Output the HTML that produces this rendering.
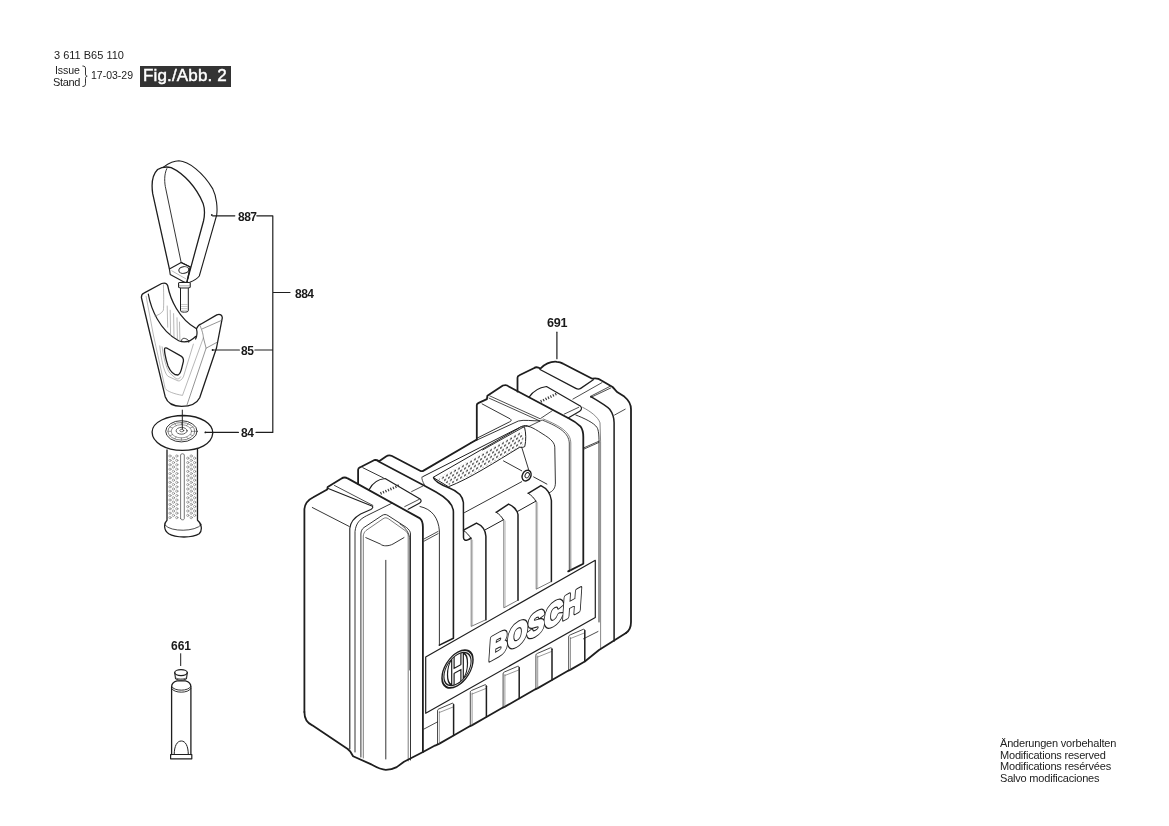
<!DOCTYPE html>
<html><head><meta charset="utf-8">
<style>
html,body{margin:0;padding:0;background:#fff;}
body{width:1169px;height:826px;position:relative;overflow:hidden;font-family:"Liberation Sans",sans-serif;color:#222;}
.t{position:absolute;white-space:nowrap;line-height:1;}
.b{font-weight:bold;font-size:12px;color:#1a1a1a;letter-spacing:-0.5px;}
svg{position:absolute;left:0;top:0;will-change:transform;}
.t{will-change:transform;}
</style></head><body>
<svg width="1169" height="826" viewBox="0 0 1169 826"><g fill="none" stroke="#1e1e1e" stroke-linejoin="round" stroke-linecap="round">
<!-- ===== OUTER / TOP CONTOURS ===== -->
<path stroke-width="1.8" d="M304.4 712 L304.4 509 C305 502.8 308 499.8 313.3 497.2 L327.2 489.5 L327.7 486.9 L341.1 478.7 C343.1 477.4 345.7 477.2 347.7 478.4 L420 518.4 C421.5 519.5 422.9 522 422.9 527 L422.9 752"/>
<path stroke-width="1.8" d="M358.1 483.9 L358.1 469.8 C358.1 468.5 359 467.7 360.3 467.2 L374 460.2 C375.7 459.7 377.4 460.2 379.1 461.3 L386 456.5 C388 455.2 390 455.2 392 456 L420.1 470.7 C421 471.2 422 471.2 422.7 471.1 L476.8 439.5"/>
<path stroke-width="1.6" d="M378.2 461.3 L423.6 485.2 L436 492 C444 496.5 453.4 503 453.4 511.8 L453.4 638.3 L439.4 645.1"/>
<path stroke-width="1.8" d="M476.8 439.5 L476.8 404.9 C476.8 403.9 477.7 403.4 478.7 402.9 L486.9 399.1 L487.4 395.7 L502.9 385.5 C505.8 384.5 507.8 385.5 508.7 386.5 L568.1 418 C572 419.9 576.8 422.8 580.7 426.7 C582.1 428.6 583.3 431.5 583.3 436.9 L583.3 563.7 L568.2 571.4"/>
<path stroke-width="1.8" d="M517.5 391.6 L517.5 377.7 C517.5 376.3 518.4 375.6 519.4 375.3 L528.1 371 L533.8 368.2 C535.5 367 538 367 540.3 368.6 C545.8 363.2 551.6 361.3 556.9 361.8 C560.3 362 562.3 363.2 563.2 363.7 L592.3 378.7 C595.2 378.2 599.1 378.7 601 380.2 L612.6 387 C614.1 388.4 615.5 390.4 617.5 392.3 L624.3 396.6 C629.1 400.5 631 405.4 631 409.2 L631 622 C631 627 629 631 626 633"/>
<!-- ===== END FACE (left) ===== -->
<path stroke-width="1.1" d="M328.2 488.5 L371.9 505.9 C373.4 507 372.9 508.2 370.8 509.5 L360.6 514.1 C353.4 518.2 350.3 522.4 349.8 528.5 L349.8 749"/>
<path stroke-width="0.8" d="M334.4 485.4 L372.9 505.4"/>
<path stroke-width="0.9" d="M312.3 507.5 L349.3 526.5"/>
<!-- ===== RIB 1 FRONT FACE ===== -->
<path stroke-width="0.9" d="M355 752 L355 531.6 C355.9 523.4 359.5 519.3 366.7 515.7 L391.9 503.2"/>
<path stroke-width="0.9" d="M360.9 757 L360.9 534 C361 531 362 529 364 527.5 L382 515.5 C384 514.2 386 514.2 388 515.5 L406.5 527.5 C409 529.5 410.5 531.5 410.5 534 L410.5 760"/>
<path stroke-width="0.7" stroke="#444" d="M363.3 758 L363.3 536 C363.5 533.5 364.5 532 366 530.5 L383 518.8 C385 517.5 386.5 517.5 388.5 518.8 L405 530.5 C407 532 408.2 533.5 408.2 536 L408.2 761"/>
<path stroke-width="0.9" d="M365.8 537.6 L380.3 544 C382 545.5 384 545.8 385.8 545.8 C389 545.8 391 545 393 544 L404 537.6"/>
<path stroke-width="0.9" d="M385.8 560.3 L385.8 759"/>
<!-- ===== RIB 2 ===== -->
<path stroke-width="0.9" d="M362.8 467.7 L383.4 477.9"/>
<path stroke-width="1.2" d="M369.2 489.5 C372.2 483.5 378.2 479.2 385.1 478.5 L420.1 498.9 C421.9 500.6 421 502.3 419.3 503.2 L408.2 509.2"/>
<path stroke-width="0.8" d="M404.7 506.6 L419.3 499.3 M411.6 491.6 L422.7 486.1"/>
<path stroke-width="2.6" stroke="#333" stroke-dasharray="1.1 1.6" stroke-linecap="butt" d="M380.5 493.5 L399 485.5"/>
<path stroke-width="0.9" d="M439.4 645.1 L439.4 531 C438.5 518 432 509 420 506.5"/>
<path stroke-width="0.8" d="M424 541.2 L438.1 533.6 M424 539 L438.1 531.4"/>
<path stroke-width="0.8" d="M409.8 670 L409.8 540 C409.8 533 405 527 400 524"/>
<!-- ===== HANDLE FRAME ===== -->
<path stroke-width="1" d="M422.7 476.7 L521.7 426.4 C524.4 425.1 527.1 425.4 529 426.4"/>
<path stroke-width="0.8" d="M421.9 477.1 C421.4 478.4 422.7 481.8 424.4 484.8"/>
<path stroke-width="0.9" d="M470 443.2 L518.4 421 C524.2 419.5 532 421 539.7 420.9"/>
<path stroke-width="0.8" d="M489.8 395.9 L540 418.7 M489 398.1 L539.7 420.9"/>
<path stroke-width="0.8" d="M529 426.4 L542.1 420 C560.3 427.3 568.7 433.3 569.3 443 L569.3 571.4"/>
<path stroke-width="0.7" stroke="#555" d="M543.3 419 C561.5 426.3 570.6 432.7 570.8 443 L570.8 570.6"/>
<defs>
<pattern id="dots" width="4" height="6.8" patternUnits="userSpaceOnUse" patternTransform="matrix(1 -0.574 0 1 0 0)">
<circle cx="1" cy="1" r="1" fill="#333" stroke="none"/><circle cx="3" cy="4.4" r="1" fill="#333" stroke="none"/>
</pattern>
<pattern id="dots2" width="3.2" height="3.6" patternUnits="userSpaceOnUse">
<circle cx="0.8" cy="0.9" r="0.75" fill="none" stroke="#666" stroke-width="0.45"/><circle cx="2.4" cy="2.7" r="0.75" fill="none" stroke="#666" stroke-width="0.45"/>
</pattern>
</defs>
<path stroke-width="1" fill="#fff" d="M433.4 477.2 L520.7 427.1 C522.5 426.6 524 426.7 524.6 427.5 C526 433 526.2 440 524.8 446.5 C523.5 447.5 521.5 447.5 519.8 447.2 C496 461.5 470 478.5 448.8 486.6 Z"/>
<path stroke="none" fill="url(#dots)" d="M437.5 478.6 L520.5 431.2 C523 433 524 438 523 444.8 C496 459.5 471 476.5 449.5 484.8 Z"/>
<path stroke-width="0.9" d="M482.6 450 L524.2 426.7 C528.1 425.2 532 427.1 542 433.5 C551.8 439.4 554.8 443 554.8 447.8 L555.4 483 C555.4 487.8 553 491.4 549.4 492.6"/>
<path stroke-width="0.9" d="M521.7 447.2 L529 470.8 M503.5 460.9 L521.7 470.8 M533.6 476.9 L546.9 484.1 M464.5 512.6 L521.7 481.7"/>
<ellipse cx="526.6" cy="475.6" rx="4.2" ry="5.6" transform="rotate(28 526.6 475.6)" stroke-width="1.4"/>
<ellipse cx="527.2" cy="475.2" rx="2" ry="2.8" transform="rotate(28 527.2 475.2)" stroke-width="0.9"/>
<path stroke-width="1.5" d="M433.6 477.7 C434.2 480.1 440.3 484.4 449.3 488 C457.2 491 462.7 496.5 463.4 502.5 L463.5 537.4 C463.5 539.8 465.3 540.7 467.1 540.1 C468.9 539.5 470.6 538.6 471 538"/>

<path stroke-width="1.5" d="M463.5 530.1 L476.5 523.1 C480.4 524.7 485.3 528.9 485.9 536.2 L485.9 619.7"/>
<path stroke-width="1.5" d="M496.2 512.3 L508.6 504.1 C512.5 505.5 517.5 510 518 514.5 L518 600.2"/>
<path stroke-width="1.5" d="M528.2 493.3 L540.9 485.6 C545 487.5 550.3 492 551.4 500.5 L551.4 581.5"/>
<path stroke-width="1" d="M463.5 530.4 C466.5 532.5 469.5 535.5 471 538.6 M496.2 512.3 C499.2 513.8 502.2 517.4 503.4 519.8 M528.2 493.3 C531.5 495.2 534.5 498.5 535.8 501.2 M484.7 530.1 L503.4 519.8 M517.6 511.4 L535.8 501.2"/>
<path stroke-width="0.7" stroke="#444" d="M471.2 538.6 L471.2 626.4 L485.9 619.7 M503.8 519.8 L503.8 607.8 L518 600.2 M536.2 501.2 L536.2 589.2 L551.4 581.5"/>
<path stroke-width="0.5" stroke="#888" d="M472.6 540 L472.6 625.6 M505.2 521 L505.2 607 M537.6 502.5 L537.6 588.4"/>
<!-- ===== RIB 3 ===== -->
<path stroke-width="0.9" d="M482.1 403.9 L510.2 418.9 C511.6 419.9 511.5 421.1 509.7 421.8 L476.8 438.3"/>
<path stroke-width="1.2" d="M529.1 397.1 C533 391.3 539.7 387.4 546.5 386.5 L580.7 406.3 C582.1 407.8 581.6 410.2 579.7 411.2 L568.1 418"/>
<path stroke-width="0.8" d="M564.2 414.1 L578.7 407.3 M540.7 418.4 L552.3 410.7"/>
<path stroke-width="2.6" stroke="#333" stroke-dasharray="1.1 1.6" stroke-linecap="butt" d="M540.7 401.5 L557.2 393.5"/>
<path stroke-width="0.9" d="M575.8 415 C583.6 418 594.2 422.8 597.1 427.6 C598.5 430 599 435 599 441.8 L599 622"/>
<path stroke-width="0.7" stroke="#555" d="M582.6 407.3 C590.4 411.2 598.1 417 600 422.8 L600.6 441.8 L600.6 649.5"/>
<path stroke-width="0.8" d="M583.9 447.8 L599 441.2 M583.9 449.1 L599 442.4"/>
<!-- ===== RIB 4 ===== -->
<path stroke-width="1.3" d="M540 369.5 L575.8 388.4 C577.8 389.4 579.2 389.4 580.7 388.4 L593.3 379.7"/>
<path stroke-width="0.8" d="M572.9 399.1 L602 382.6 M614.6 415 L625.2 409.2"/>
<path stroke-width="0.8" d="M590.8 396.2 L609.7 386.5 M590.8 397.4 L610.7 388"/>
<path stroke-width="1.5" d="M590.8 396.6 C594.2 398.6 605.9 405.4 609.7 409.2 C612.6 413.1 614.1 418 614.1 422.8 L614.1 641"/>
<!-- ===== LABEL PANEL ===== -->
<path stroke-width="1.2" d="M425.7 713.3 L425.7 656.9 L595.3 560.3 L595.3 617.4 Z"/>
<path stroke-width="1.8" d="M304.4 712 C304.4 718 307 723 312.3 725.3 L347.7 749 L350.4 751.7 L353.1 756.2 L371.3 764.4 C376 767 381 769.8 385.8 769.8 C390 769.8 394 768.5 396.7 767.1 L404 761.7 L423 752 L435 745.5 L436.0 745.3 C437.0 744.7 438.0 744.3 439.0 743.9 L453.6 735.5 L468.8 726.8 L468.8 726.8 C469.8 726.2 470.8 725.8 471.8 725.4 L486.4 717.0 L501.6 708.3 L501.6 708.3 C502.6 707.7 503.6 707.3 504.6 706.9 L519.2 698.5 L534.4 689.8 L534.4 689.8 C535.4 689.2 536.4 688.8 537.4 688.4 L552.0 680.0 L567.2 671.3 L567.2 671.3 C568.2 670.7 569.2 670.3 570.2 669.9 L584.8 661.5 L599 650 L626 633"/>
<path stroke-width="0.8" d="M423.7 729.2 L437.5 721.9 M583.5 638.8 L598 631.5"/>
<path stroke-width="0.8" d="M437.5 744.5 L437.5 711.0 C437.5 709.5 438.3 709.2 439.0 708.9 L452.1 703.3 C453.1 703.0 453.6 703.7 453.6 704.7"/>
<path stroke-width="0.6" stroke="#555" d="M439.3 743.5 L439.3 711.5 M439.3 712.5 L453.1 707.0"/>
<path stroke-width="1.5" d="M453.6 704.7 L453.6 735.5"/>
<path stroke-width="0.8" d="M470.3 726.0 L470.3 692.5 C470.3 691.0 471.1 690.7 471.8 690.4 L484.9 684.8 C485.9 684.5 486.4 685.2 486.4 686.2"/>
<path stroke-width="0.6" stroke="#555" d="M472.1 725.0 L472.1 693.0 M472.1 694.0 L485.9 688.5"/>
<path stroke-width="1.5" d="M486.4 686.2 L486.4 717.0"/>
<path stroke-width="0.8" d="M503.1 707.5 L503.1 674.0 C503.1 672.5 503.9 672.2 504.6 671.9 L517.7 666.3 C518.7 666.0 519.2 666.7 519.2 667.7"/>
<path stroke-width="0.6" stroke="#555" d="M504.9 706.5 L504.9 674.5 M504.9 675.5 L518.7 670.0"/>
<path stroke-width="1.5" d="M519.2 667.7 L519.2 698.5"/>
<path stroke-width="0.8" d="M535.9 689.0 L535.9 655.5 C535.9 654.0 536.7 653.7 537.4 653.4 L550.5 647.8 C551.5 647.5 552.0 648.2 552.0 649.2"/>
<path stroke-width="0.6" stroke="#555" d="M537.7 688.0 L537.7 656.0 M537.7 657.0 L551.5 651.5"/>
<path stroke-width="1.5" d="M552.0 649.2 L552.0 680.0"/>
<path stroke-width="0.8" d="M568.7 670.5 L568.7 637.0 C568.7 635.5 569.5 635.2 570.2 634.9 L583.3 629.3 C584.3 629.0 584.8 629.7 584.8 630.7"/>
<path stroke-width="0.6" stroke="#555" d="M570.5 669.5 L570.5 637.5 M570.5 638.5 L584.3 633.0"/>
<path stroke-width="1.5" d="M584.8 630.7 L584.8 661.5"/>
<!-- bosch logo -->
<g transform="translate(457.5 669) matrix(1 -0.566 0 1.08 0 0)">
<circle r="15.5" stroke-width="1.5"/>
<circle r="13.6" stroke-width="1.1"/>
<path stroke-width="1.2" d="M-3.4 -12.6 L-3.4 -2.3 L3.4 -2.3 L3.4 -12.6 M-3.4 12.6 L-3.4 2.3 L3.4 2.3 L3.4 12.6 M-5.8 -11.8 C-9.2 -9 -10 -4.5 -10 0 C-10 4.5 -9.2 9 -5.8 11.8 M5.8 -11.8 C9.2 -9 10 -4.5 10 0 C10 4.5 9.2 9 5.8 11.8 M-5.8 -11.8 L-5.8 11.8 M5.8 -11.8 L5.8 11.8"/>
</g>
<g transform="translate(488.6 661) matrix(1 -0.556 0 1 0 0) skewX(-4)" font-family="Liberation Sans" font-weight="bold" font-size="31">
<text x="0" y="0" textLength="92" lengthAdjust="spacingAndGlyphs" fill="#fff" stroke="#1e1e1e" stroke-width="4.4" stroke-linejoin="round">BOSCH</text>
<text x="0" y="0" textLength="92" lengthAdjust="spacingAndGlyphs" fill="#fff" stroke="#fff" stroke-width="2.2" stroke-linejoin="round">BOSCH</text>
</g>
</g>
<g fill="none" stroke="#1e1e1e" stroke-linejoin="round" stroke-linecap="round">
<!-- strap 887 -->
<path stroke-width="1.3" d="M169.4 268.9 L152.7 193.7 C151.3 184.1 152.7 174.4 157.6 169.5 C161.5 167.1 166.3 166.4 171.2 167.6 C183.7 173.4 196.3 187 203.1 203.4 C205 209.2 204.6 216 203.5 221 L186.8 282.3"/>
<path stroke-width="1.1" d="M163.4 167.1 C168.2 163.7 173.1 160.8 178.9 160.8 C188.6 161.3 203.1 172.4 212.8 188.9 C216.7 196.6 217.6 208.3 216.7 215 L199.3 276 C197 279 193 281 189.9 282.2"/>
<path stroke-width="0.9" d="M166.8 168.6 C163.9 174.4 164.4 183.1 165.8 188.9 L181.2 262.6"/>
<path stroke-width="1.1" fill="#fff" d="M169.4 268.9 L181.2 262.6 L190.3 266.9 L186.8 282.3 L186.3 283.2 L170.2 274.4 Z"/>
<path stroke-width="1.1" d="M181.2 262.6 L190.3 266.9 L186.8 282.3"/>
<ellipse cx="183.8" cy="270" rx="5" ry="3.3" transform="rotate(-8 183.8 270)" stroke-width="1"/>
<path stroke-width="0.8" stroke="#aaa" d="M171.8 270.8 L186.2 279"/>
<path stroke-width="1" fill="#fff" d="M180.5 287.8 L180.5 310.8 C180.5 312.6 188.3 312.6 188.3 310.8 L188.3 287.8"/>
<path stroke-width="1.1" fill="#fff" d="M178.6 283 C178.6 282 190.2 282 190.2 283 L190.2 287 C190.2 288.4 178.6 288.4 178.6 287 Z"/>
<path stroke-width="0.7" stroke="#888" d="M179.5 285.8 L189.3 285.8"/>
<path stroke-width="0.6" stroke="#aaa" d="M181.5 304.5 L187.3 304.5 M181.5 306.5 L187.3 306.5 M181.5 308.5 L187.3 308.5 M181.5 310.3 L187.3 310.3"/>
<circle cx="211.8" cy="215" r="0.9" fill="#222" stroke="none"/>
<!-- holder 85 -->
<path stroke-width="1.3" fill="#fff" d="M141.4 297.5 C141.4 294.9 142.2 293.7 143.9 293.1 L161.7 283.5 C164.3 282.7 166.8 283.1 167.7 285.6 C170.2 299.2 178.7 318.7 196.5 328.8 C197.7 326.3 199 324.6 200.7 324.2 L216.8 314.9 C220.2 313.6 222.3 315.3 222.3 317.8 L216.5 348 L199.7 397.7 C197 403.1 190.7 406.3 181.6 406.3 C172.5 406.3 167.1 402.2 165.2 396.7 L150.3 335 Z"/>
<path stroke-width="1.2" d="M148.3 294.1 C150.7 307.7 159.2 330.5 178.7 340.7 C182.9 342.4 188.8 343.3 195.6 336.5 M196.5 328.8 C197.3 332.2 196.9 336.5 195.6 339"/>
<path stroke-width="0.9" d="M181.6 341.6 C181.2 339 182.9 337.7 185.5 338.6 C188 339.4 189.7 341.1 188.8 342.4"/>
<path stroke-width="0.6" stroke="#888" d="M146.1 296.2 L153.4 335 L165.2 388.6 C167.1 391.3 174.3 394 182.5 395.4 L203.4 337.7 M163.4 284.8 C163.8 294.9 163.8 306 163.4 310.2 C161.7 313.6 157.5 315.3 154.9 316.1 M167.2 306 L167.7 327.2 M170.2 310.2 L170.6 335.6 M173.6 313.6 L174 337.3 M177 317.8 L177.4 339 M179.5 322.1 L179.9 340.7"/>
<path stroke-width="0.6" stroke="#888" d="M159.8 345.9 C161.6 364.1 165.2 374 168 376.3 L178 380.9 C179.8 381.3 181.6 379.9 183.4 376.8 L193.4 344.1 M162.1 346.8 C164.3 362.2 167.1 369.5 169.8 373.1 L176.1 378.6 C178 379.5 179.8 378.6 180.7 376.8"/>
<path stroke-width="0.7" stroke="#666" d="M199.9 325.5 C202.4 330.5 203.3 335.6 203.4 337.7 L206.1 348.2 L187 404.9 M202.4 328.8 L221.5 320.4 M206.1 348.2 L217 342.3"/>
<path stroke-width="1.3" d="M164.8 348.2 C163.9 349.5 165.2 357.7 168 365.9 C170.7 372.2 174.3 375 178 375 C179.8 374 180.7 372.2 181.6 368.6 L183.4 361.3 C183.9 358.6 182.5 356.8 179.8 355.4 L167.1 348.2 C166.1 347.7 165.2 347.7 164.8 348.2 Z"/>
<circle cx="212.6" cy="350" r="1" fill="#222" stroke="none"/>
<!-- disc 84 -->
<path stroke-width="1.3" fill="#fff" d="M152.1 432.1 C152.1 421.9 167 415.5 184 415.5 C200.9 416 212.8 423.6 212.8 433 C211.9 444 199.2 450.4 182.3 450.4 C165.3 450.4 152.1 442.3 152.1 432.1 Z"/>
<ellipse cx="181.4" cy="431.3" rx="15.7" ry="10.6" stroke-width="0.9"/>
<ellipse cx="181.4" cy="431.3" rx="13.5" ry="8.8" stroke-width="0.7" stroke="#555"/>
<ellipse cx="181.4" cy="431.3" rx="10.2" ry="6.6" stroke-width="0.6" stroke="#555"/>
<path stroke-width="0.6" stroke="#555" d="M191.6 431.3 L194.9 431.3 M190.2 434.6 L193.1 435.7 M186.5 437.0 L188.2 438.9 M181.4 437.9 L181.4 440.1 M176.3 437.0 L174.7 438.9 M172.6 434.6 L169.7 435.7 M171.2 431.3 L167.9 431.3 M172.6 428.0 L169.7 426.9 M176.3 425.6 L174.7 423.7 M181.4 424.7 L181.4 422.5 M186.5 425.6 L188.2 423.7 M190.2 428.0 L193.1 426.9"/>
<ellipse cx="181.6" cy="430.8" rx="5.5" ry="3.4" stroke-width="0.7"/>
<ellipse cx="181.8" cy="430.6" rx="2" ry="1.2" stroke-width="0.6"/>
<path stroke-width="1" d="M182.3 410.1 L182.3 429"/>
<circle cx="205.4" cy="432.4" r="0.9" fill="#222" stroke="none"/>
<!-- grip -->
<path stroke-width="1.3" d="M167 449.9 L167 520.3 C163.6 523.6 163.6 530.4 168.7 533.8 C175.5 538.1 192.5 538.1 199.2 533.8 C202.6 530.4 201.8 523.6 197.5 520.3 L197.5 449.4"/>
<path stroke-width="0.8" d="M165.3 525.3 C170.4 532.1 195.8 532.1 201.4 524.5"/>
<path stroke-width="0.8" stroke="#555" d="M180.6 518.6 L180.6 455 C180.6 453.3 184.3 453.3 184.3 455 L184.3 518.6 C184.3 520.3 180.6 520.3 180.6 518.6"/>
<g stroke="#666" stroke-width="0.55" fill="none"><circle cx="170.0" cy="456.0" r="1.15"/><circle cx="170.0" cy="460.4" r="1.15"/><circle cx="170.0" cy="464.8" r="1.15"/><circle cx="170.0" cy="469.2" r="1.15"/><circle cx="170.0" cy="473.6" r="1.15"/><circle cx="170.0" cy="478.0" r="1.15"/><circle cx="170.0" cy="482.4" r="1.15"/><circle cx="170.0" cy="486.8" r="1.15"/><circle cx="170.0" cy="491.2" r="1.15"/><circle cx="170.0" cy="495.6" r="1.15"/><circle cx="170.0" cy="500.0" r="1.15"/><circle cx="170.0" cy="504.4" r="1.15"/><circle cx="170.0" cy="508.8" r="1.15"/><circle cx="170.0" cy="513.2" r="1.15"/><circle cx="170.0" cy="517.6" r="1.15"/><circle cx="173.4" cy="458.2" r="1.15"/><circle cx="173.4" cy="462.6" r="1.15"/><circle cx="173.4" cy="467.0" r="1.15"/><circle cx="173.4" cy="471.4" r="1.15"/><circle cx="173.4" cy="475.8" r="1.15"/><circle cx="173.4" cy="480.2" r="1.15"/><circle cx="173.4" cy="484.6" r="1.15"/><circle cx="173.4" cy="489.0" r="1.15"/><circle cx="173.4" cy="493.4" r="1.15"/><circle cx="173.4" cy="497.8" r="1.15"/><circle cx="173.4" cy="502.2" r="1.15"/><circle cx="173.4" cy="506.6" r="1.15"/><circle cx="173.4" cy="511.0" r="1.15"/><circle cx="173.4" cy="515.4" r="1.15"/><circle cx="176.8" cy="456.0" r="1.15"/><circle cx="176.8" cy="460.4" r="1.15"/><circle cx="176.8" cy="464.8" r="1.15"/><circle cx="176.8" cy="469.2" r="1.15"/><circle cx="176.8" cy="473.6" r="1.15"/><circle cx="176.8" cy="478.0" r="1.15"/><circle cx="176.8" cy="482.4" r="1.15"/><circle cx="176.8" cy="486.8" r="1.15"/><circle cx="176.8" cy="491.2" r="1.15"/><circle cx="176.8" cy="495.6" r="1.15"/><circle cx="176.8" cy="500.0" r="1.15"/><circle cx="176.8" cy="504.4" r="1.15"/><circle cx="176.8" cy="508.8" r="1.15"/><circle cx="176.8" cy="513.2" r="1.15"/><circle cx="176.8" cy="517.6" r="1.15"/><circle cx="187.8" cy="458.2" r="1.15"/><circle cx="187.8" cy="462.6" r="1.15"/><circle cx="187.8" cy="467.0" r="1.15"/><circle cx="187.8" cy="471.4" r="1.15"/><circle cx="187.8" cy="475.8" r="1.15"/><circle cx="187.8" cy="480.2" r="1.15"/><circle cx="187.8" cy="484.6" r="1.15"/><circle cx="187.8" cy="489.0" r="1.15"/><circle cx="187.8" cy="493.4" r="1.15"/><circle cx="187.8" cy="497.8" r="1.15"/><circle cx="187.8" cy="502.2" r="1.15"/><circle cx="187.8" cy="506.6" r="1.15"/><circle cx="187.8" cy="511.0" r="1.15"/><circle cx="187.8" cy="515.4" r="1.15"/><circle cx="191.2" cy="456.0" r="1.15"/><circle cx="191.2" cy="460.4" r="1.15"/><circle cx="191.2" cy="464.8" r="1.15"/><circle cx="191.2" cy="469.2" r="1.15"/><circle cx="191.2" cy="473.6" r="1.15"/><circle cx="191.2" cy="478.0" r="1.15"/><circle cx="191.2" cy="482.4" r="1.15"/><circle cx="191.2" cy="486.8" r="1.15"/><circle cx="191.2" cy="491.2" r="1.15"/><circle cx="191.2" cy="495.6" r="1.15"/><circle cx="191.2" cy="500.0" r="1.15"/><circle cx="191.2" cy="504.4" r="1.15"/><circle cx="191.2" cy="508.8" r="1.15"/><circle cx="191.2" cy="513.2" r="1.15"/><circle cx="191.2" cy="517.6" r="1.15"/><circle cx="194.6" cy="458.2" r="1.15"/><circle cx="194.6" cy="462.6" r="1.15"/><circle cx="194.6" cy="467.0" r="1.15"/><circle cx="194.6" cy="471.4" r="1.15"/><circle cx="194.6" cy="475.8" r="1.15"/><circle cx="194.6" cy="480.2" r="1.15"/><circle cx="194.6" cy="484.6" r="1.15"/><circle cx="194.6" cy="489.0" r="1.15"/><circle cx="194.6" cy="493.4" r="1.15"/><circle cx="194.6" cy="497.8" r="1.15"/><circle cx="194.6" cy="502.2" r="1.15"/><circle cx="194.6" cy="506.6" r="1.15"/><circle cx="194.6" cy="511.0" r="1.15"/><circle cx="194.6" cy="515.4" r="1.15"/></g>
<!-- tube 661 -->
<path stroke-width="1.3" d="M171.6 754.5 L171.6 687 C171.6 683.5 174 681.5 177 680.8 L185.5 680.8 C188.5 681.5 190.9 683.5 190.9 687 L190.9 754.5"/>
<path stroke-width="1.2" d="M170.6 754.5 L191.8 754.5 L191.8 758.8 L170.6 758.8 Z"/>
<path stroke-width="0.9" d="M171.6 686.5 C174 691.5 188.5 691.5 190.9 686.5 M171.6 688.5 C174 693.5 188.5 693.5 190.9 688.5"/>
<path stroke-width="1" d="M174.2 754.5 C174.2 746 177 741 181.3 741 C185.5 741 188.3 746 188.3 754.5"/>
<ellipse cx="181" cy="672.6" rx="6.3" ry="3" stroke-width="1.2"/>
<path stroke-width="1.1" d="M174.7 672.6 L175.5 678.5 C177 680.5 185 680.5 186.5 678.5 L187.3 672.6"/>
<path stroke-width="1" stroke="#555" stroke-dasharray="0.8 0.9" d="M176 678 C178 679.2 184 679.2 186 678"/>
<path stroke-width="1" d="M180.7 653.7 L180.7 665.6"/>
<!-- brace -->
<path stroke-width="0.9" d="M82.8 66 C85 66 85.5 67 85.5 69 L85.5 74 C85.5 75.5 86 76 87.2 76.2 C86 76.4 85.5 77 85.5 78.5 L85.5 83.5 C85.5 85.5 85 86.5 82.8 86.5"/>
<!-- leaders -->
<path stroke-width="1.2" d="M212.6 215.8 L234.8 215.8 M256.8 215.8 L272.8 215.8 L272.8 432.4 L256 432.4 M205.4 432.4 L238.4 432.4 M212.6 350 L239.4 350 M254.9 350 L272.8 350 M272.8 292.5 L290 292.5"/>
<path stroke-width="1.2" d="M556.9 332.2 L556.9 358.7"/>
</g>
</svg>
<span class="t" style="left:54px;top:50px;font-size:11px;">3 611 B65 110</span>
<span class="t" style="left:55.3px;top:64.9px;font-size:10.6px;letter-spacing:-0.1px;">Issue</span>
<span class="t" style="left:53.3px;top:76.6px;font-size:11px;letter-spacing:-0.35px;">Stand</span>
<span class="t" style="left:91px;top:70px;font-size:10.5px;">17-03-29</span>
<div style="position:absolute;left:139.8px;top:65.6px;width:91px;height:21px;background:#333;"></div>
<span class="t" style="left:143.2px;top:67.3px;font-size:17px;letter-spacing:0.15px;color:#fff;-webkit-text-stroke:0.45px #fff;">Fig./Abb. 2</span>
<span class="t b" style="left:237.8px;top:211px;">887</span>
<span class="t b" style="left:294.5px;top:288.2px;">884</span>
<span class="t b" style="left:240.8px;top:344.8px;">85</span>
<span class="t b" style="left:240.8px;top:426.8px;">84</span>
<span class="t b" style="left:170.6px;top:640.2px;letter-spacing:0;">661</span>
<span class="t b" style="left:546.5px;top:317px;font-size:12.6px;letter-spacing:-0.2px;">691</span>
<span class="t" style="left:1000px;top:737.8px;font-size:11px;letter-spacing:-0.2px;">Änderungen vorbehalten</span>
<span class="t" style="left:1000px;top:749.6px;font-size:11px;letter-spacing:-0.2px;">Modifications reserved</span>
<span class="t" style="left:1000px;top:761.4px;font-size:11px;letter-spacing:-0.2px;">Modifications resérvées</span>
<span class="t" style="left:1000px;top:773.2px;font-size:11px;letter-spacing:-0.2px;">Salvo modificaciones</span>
</body></html>
